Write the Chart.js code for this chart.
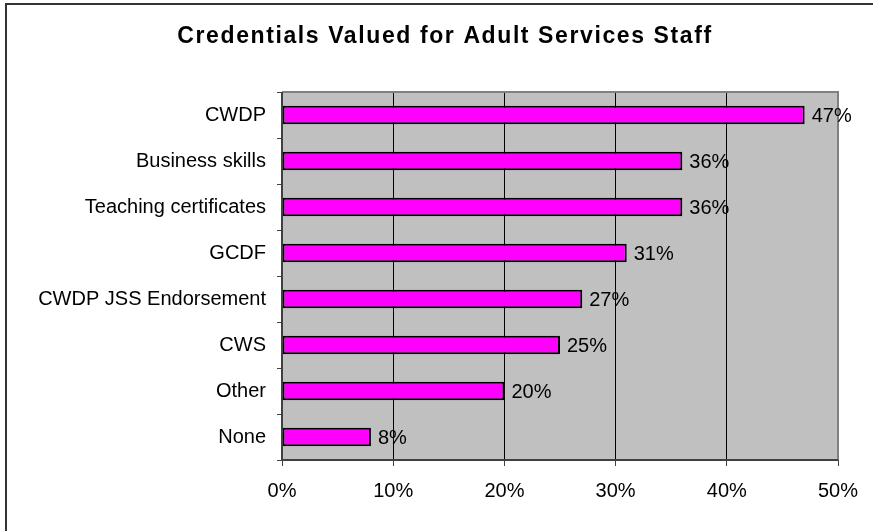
<!DOCTYPE html>
<html>
<head>
<meta charset="utf-8">
<script src="https://cdn.jsdelivr.net/npm/chart.js@4/dist/chart.umd.min.js"></script>
<style>
  html, body { margin: 0; padding: 0; background: #fff; }
  #wrap { width: 873px; height: 531px; }
</style>
</head>
<body>
<div id="wrap"><canvas id="c" width="873" height="531"></canvas></div>
<script>
// Survey results: share of respondents valuing each credential
const categories = [
  'CWDP',
  'Business skills',
  'Teaching certificates',
  'GCDF',
  'CWDP JSS Endorsement',
  'CWS',
  'Other',
  'None'
];
const percentValues = [47, 36, 36, 31, 27, 25, 20, 8];
const axisTicks = [0, 10, 20, 30, 40, 50];
const chartTitle = 'Credentials Valued for Adult Services Staff';

const FONT = '"Liberation Sans", Arial, sans-serif';
const LABEL_SIZE = 20;

// Grey plot background
const plotBackground = {
  id: 'plotBackground',
  beforeDraw(chart) {
    const { ctx, chartArea: a } = chart;
    ctx.save();
    ctx.fillStyle = '#C0C0C0';
    ctx.fillRect(a.left, a.top, a.right - a.left, a.bottom - a.top);
    ctx.restore();
  }
};

// Frame lines, axis lines, title and value labels
const decorations = {
  id: 'decorations',
  afterDatasetsDraw(chart) {
    const { ctx, chartArea: a } = chart;
    ctx.save();
    // plot edges: top/right light, left/bottom dark
    ctx.lineWidth = 2;
    ctx.strokeStyle = '#808080';
    ctx.beginPath();
    ctx.moveTo(a.left, a.top);
    ctx.lineTo(a.right, a.top);
    ctx.lineTo(a.right, a.bottom);
    ctx.stroke();
    ctx.strokeStyle = '#404040';
    ctx.beginPath();
    ctx.moveTo(a.left, a.top);
    ctx.lineTo(a.left, a.bottom);
    ctx.lineTo(a.right, a.bottom);
    ctx.stroke();

    // value labels at the end of each bar
    const meta = chart.getDatasetMeta(0);
    ctx.fillStyle = '#000';
    ctx.font = LABEL_SIZE + 'px ' + FONT;
    ctx.textAlign = 'left';
    ctx.textBaseline = 'middle';
    meta.data.forEach((bar, i) => {
      ctx.fillText(percentValues[i] + '%', bar.x + 7, bar.y + 1);
    });
    ctx.restore();
  },
  afterDraw(chart) {
    const { ctx } = chart;
    ctx.save();
    // outer frame
    ctx.strokeStyle = '#333333';
    ctx.lineWidth = 2;
    ctx.beginPath();
    ctx.moveTo(6, 531);
    ctx.lineTo(6, 4);
    ctx.lineTo(873, 4);
    ctx.stroke();
    // title
    ctx.fillStyle = '#000';
    ctx.font = 'bold 23px ' + FONT;
    if ('letterSpacing' in ctx) ctx.letterSpacing = '1.6px';
    ctx.textAlign = 'center';
    ctx.textBaseline = 'alphabetic';
    ctx.fillText(chartTitle, 445, 43);
    ctx.restore();
  }
};

new Chart(document.getElementById('c'), {
  type: 'bar',
  data: {
    labels: categories,
    datasets: [{
      data: percentValues,
      backgroundColor: '#FF00FF',
      borderColor: '#000000',
      borderWidth: 2,
      borderSkipped: false,
      barPercentage: 0.4,
      categoryPercentage: 1
    }]
  },
  options: {
    indexAxis: 'y',
    responsive: false,
    animation: false,
    devicePixelRatio: 1,
    layout: { padding: { top: 92, right: 35, left: 0, bottom: 0 } },
    plugins: {
      legend: { display: false },
      tooltip: { enabled: false },
      title: { display: false }
    },
    scales: {
      x: {
        min: 0,
        max: 50,
        afterBuildTicks(scale) {
          scale.ticks = axisTicks.map(v => ({ value: v }));
        },
        afterFit(scale) { scale.height = 531 - 460; },
        border: { display: false },
        grid: {
          color: '#000000',
          lineWidth: 1,
          drawTicks: true,
          tickLength: 6,
          tickColor: '#404040'
        },
        ticks: {
          color: '#000',
          font: { family: FONT, size: LABEL_SIZE },
          padding: 13,
          callback: v => v + '%'
        }
      },
      y: {
        offset: true,
        afterFit(scale) { scale.width = 282; },
        border: { display: false },
        grid: {
          drawOnChartArea: false,
          drawTicks: true,
          tickLength: 5,
          tickColor: '#404040',
          offset: true
        },
        ticks: {
          color: '#000',
          font: { family: FONT, size: LABEL_SIZE },
          padding: 11
        }
      }
    }
  },
  plugins: [plotBackground, decorations]
});
</script>
</body>
</html>
